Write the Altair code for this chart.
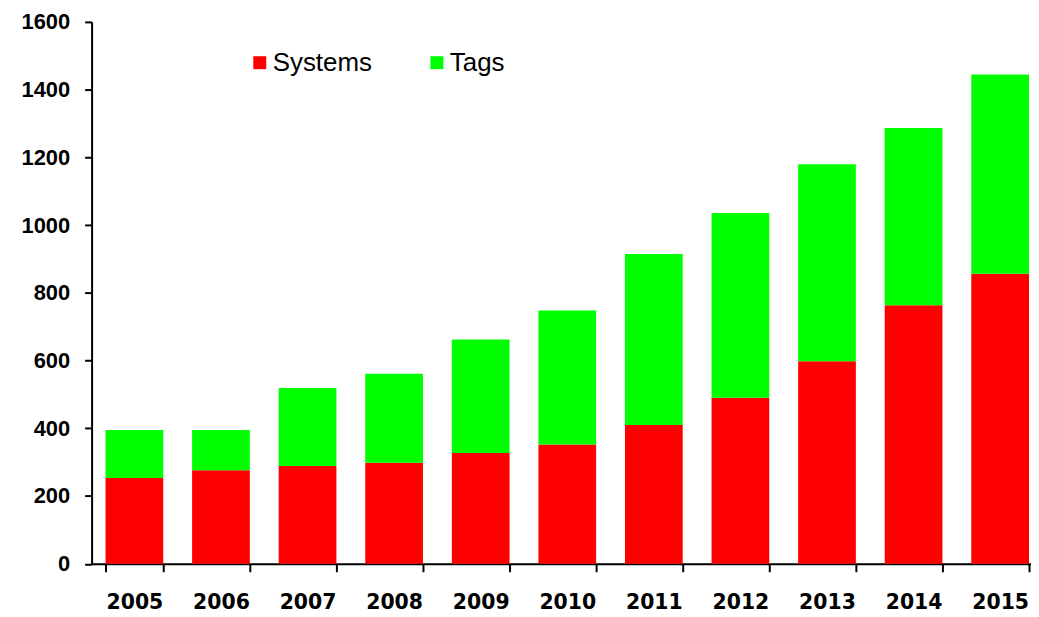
import altair as alt
import pandas as pd

years = ["2005", "2006", "2007", "2008", "2009", "2010", "2011", "2012", "2013", "2014", "2015"]
systems = [253, 276, 289, 298, 327, 352, 410, 490, 598, 763, 856]
tags = [142, 119, 230, 263, 335, 396, 505, 546, 582, 524, 589]
series = ["Systems", "Tags"]
colors = ["#ff0000", "#00ff00"]
y_ticks = [0, 200, 400, 600, 800, 1000, 1200, 1400, 1600]

rows = []
for i, yr in enumerate(years):
    rows.append({"year": yr, "series": series[0], "value": systems[i], "ord": 0})
    rows.append({"year": yr, "series": series[1], "value": tags[i], "ord": 1})
df = pd.DataFrame(rows)

chart = alt.Chart(df).mark_bar(strokeWidth=0).encode(
    x=alt.X(
        "year:N", sort=years, title=None,
        scale=alt.Scale(paddingInner=1/3, paddingOuter=0.092, align=0.875),
        axis=alt.Axis(
            labelAngle=0, tickBand="extent", tickSize=8, tickWidth=2, tickColor="black",
            domainColor="black", domainWidth=2, labelPadding=21,
            labelFont="DejaVu Sans", labelFontWeight="bold", labelFontSize=20.5,
            labelColor="black",
        ),
    ),
    y=alt.Y(
        "value:Q", stack="zero", title=None,
        scale=alt.Scale(domain=[0, 1600], nice=False),
        axis=alt.Axis(
            values=y_ticks, format="d", grid=False, tickSize=7, tickWidth=2, tickColor="black",
            domainColor="black", domainWidth=2, labelPadding=15,
            labelFont="Liberation Sans", labelFontWeight="bold", labelFontSize=22,
            labelColor="black",
        ),
    ),
    color=alt.Color(
        "series:N",
        scale=alt.Scale(domain=series, range=colors),
        legend=alt.Legend(
            orient="none", legendX=156, legendY=28, direction="horizontal", title=None,
            symbolType="square", symbolSize=169, symbolStrokeWidth=0, symbolOpacity=1,
            labelFont="Liberation Sans", labelFontSize=26, labelColor="black",
            labelOffset=0, columnPadding=52, padding=0,
        ),
    ),
    order=alt.Order("ord:Q"),
).properties(
    width=944, height=544.5,
    autosize=alt.AutoSizeParams(type="none"),
    padding={"left": 84, "top": 12.5, "right": 0, "bottom": 48},
).configure_view(stroke=None)

chart.save("out.html", embed_options={"renderer": "svg", "actions": False})
